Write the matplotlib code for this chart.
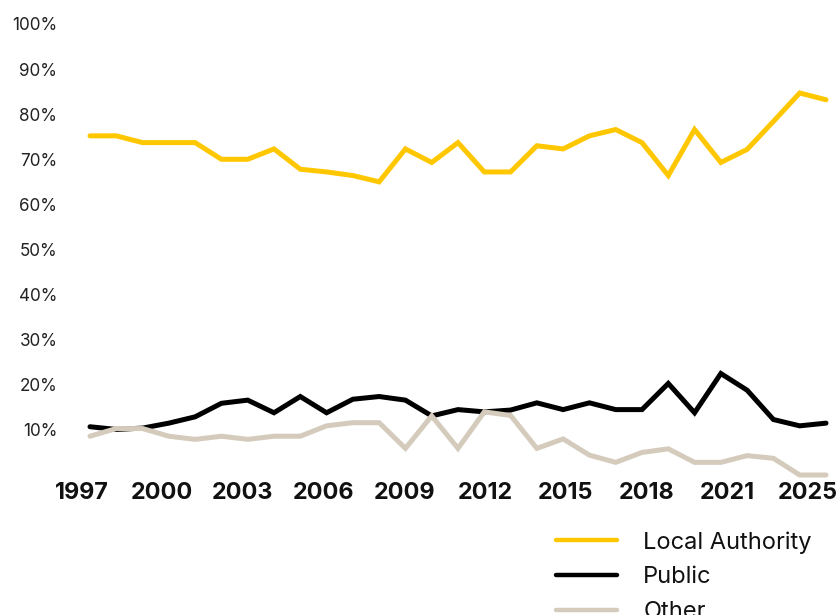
import matplotlib
matplotlib.use("Agg")
import matplotlib.pyplot as plt
import numpy as np
from matplotlib.ticker import FixedLocator

years = list(range(1997, 2026))
local_authority = [75.2, 75.2, 73.7, 73.7, 73.7, 70.0, 70.0, 72.3, 67.8, 67.2,
                   66.4, 65.0, 72.3, 69.3, 73.7, 67.2, 67.2, 73.0, 72.3, 75.2,
                   76.6, 73.7, 66.4, 76.6, 69.3, 72.2, 78.4, 84.7, 83.2]
public = [10.7, 10.1, 10.4, 11.5, 12.9, 15.9, 16.6, 13.8, 17.4, 13.8,
          16.8, 17.4, 16.6, 13.1, 14.5, 14.0, 14.4, 16.0, 14.5, 16.0,
          14.5, 14.5, 20.3, 13.8, 22.5, 18.8, 12.3, 10.9, 11.5]
other = [8.6, 10.3, 10.3, 8.6, 7.9, 8.6, 7.9, 8.6, 8.6, 10.9,
         11.6, 11.6, 5.9, 13.1, 5.9, 14.0, 13.2, 5.9, 8.0, 4.4,
         2.8, 5.0, 5.8, 2.8, 2.8, 4.3, 3.7, 0.0, 0.0]

series_names = ["Local Authority", "Public", "Other"]
colors = ["#FFC700", "#000000", "#D4CBBD"]
x_tick_labels = ["1997", "2000", "2003", "2006", "2009", "2012", "2015", "2018", "2021", "2025"]
y_ticks = [10, 20, 30, 40, 50, 60, 70, 80, 90, 100]

plt.rcParams['font.family'] = ['Inter', 'DejaVu Sans']

W, H = 839, 615
px_per_year = (826 - 90) / 28
x0 = 1996.6
left_px = 90 - (1997 - x0) * px_per_year
fig = plt.figure(figsize=(W / 100, H / 100), dpi=100)
ax = fig.add_axes([left_px / W, 1 - 475 / H, (826 - left_px) / W, (475 - 24) / H])

for vals, name, c in zip([local_authority, public, other], series_names, colors):
    ax.plot(years, vals, color=c, lw=3.6, label=name, clip_on=False,
            solid_joinstyle='miter', solid_capstyle='round')

ax.set_xlim(x0, 2025)
ax.set_ylim(0, 100)
# labels are evenly spaced across the axis (as in the original)
tick_pos = np.linspace(1996.68, 2024.3, len(x_tick_labels))
ax.xaxis.set_major_locator(FixedLocator(tick_pos))
ax.set_xticklabels(x_tick_labels, fontsize=16.8, fontweight='bold', color='#111111')
ax.yaxis.set_major_locator(FixedLocator(y_ticks))
ax.set_yticklabels([f"{v}%" for v in y_ticks], fontsize=12.3, color='#222222')
ax.tick_params(axis='both', length=0)
ax.tick_params(axis='y', pad=23.5 - (90 - left_px) * 0.72)
ax.tick_params(axis='x', pad=5)
for s in ax.spines.values():
    s.set_visible(False)

leg = fig.legend(loc='upper left', bbox_to_anchor=(556 / W, 1 - 531 / H),
                 frameon=False, fontsize=17, handlelength=2.6,
                 handletextpad=1.1, labelspacing=0.55, borderpad=0,
                 borderaxespad=0)
for t in leg.get_texts():
    t.set_color('#111111')
for l in leg.get_lines():
    l.set_linewidth(3.2)

fig.savefig("out.png", dpi=100)
